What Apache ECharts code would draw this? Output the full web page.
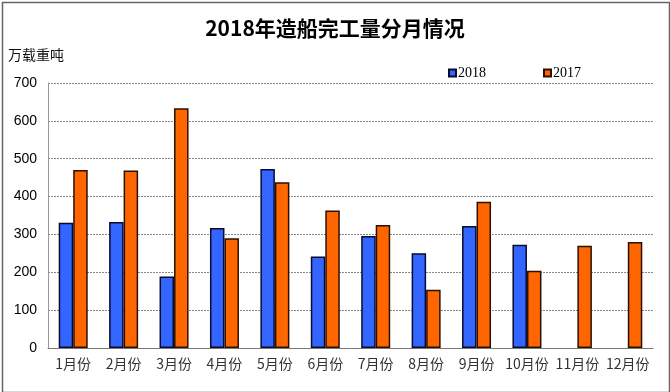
<!DOCTYPE html>
<html>
<head>
<meta charset="utf-8">
<script src="https://cdn.jsdelivr.net/npm/echarts@6/dist/echarts.min.js"></script>
<style>
html,body{margin:0;padding:0;background:#fff;}
#c{width:670px;height:392px;}
</style>
</head>
<body>
<div id="c"></div>
<script>
const categories = ['1月份','2月份','3月份','4月份','5月份','6月份','7月份','8月份','9月份','10月份','11月份','12月份'];
const values2018 = [331, 333, 189, 317, 473, 242, 296, 250, 322, 273, null, null];
const values2017 = [470, 469, 633, 290, 438, 363, 325, 154, 386, 204, 270, 280];
const yTicks = [0, 100, 200, 300, 400, 500, 600, 700];

const chart = echarts.init(document.getElementById('c'));
chart.setOption({
  animation: false,
  backgroundColor: '#fff',
  title: {
    text: '2018年造船完工量分月情况',
    left: 'center',
    top: 13,
    textStyle: {fontSize: 21, fontWeight: 'bold', color: '#000', fontFamily: 'Noto Sans CJK SC'}
  },
  graphic: [
    {type: 'rect', left: 0, top: 0, shape: {width: 667, height: 390}, style: {fill: 'none', stroke: '#666', lineWidth: 1.5}},
    {type: 'text', left: 8, top: 48, style: {text: '万载重吨', fill: '#111', font: '14px "Noto Sans CJK SC"'}}
  ],
  legend: {
    data: ['2018', '2017'],
    left: 443,
    top: 61,
    itemWidth: 7,
    itemHeight: 7,
    itemGap: 57,
    icon: 'rect',
    textStyle: {fontSize: 14, fontFamily: 'Liberation Serif', color: '#000', padding: [0,0,0,-3]}
  },
  grid: {left: 48, right: 17, top: 83, bottom: 44, containLabel: false},
  xAxis: {
    type: 'category',
    data: categories,
    axisLine: {lineStyle: {color: '#777', width: 1}},
    axisTick: {inside: true, length: 4, lineStyle: {color: '#777'}},
    axisLabel: {fontSize: 14, color: '#333', margin: 9, fontFamily: 'Noto Sans CJK SC', interval: 0}
  },
  yAxis: {
    type: 'value',
    min: yTicks[0],
    max: yTicks[yTicks.length - 1],
    interval: 100,
    axisLine: {show: true, lineStyle: {color: '#999', width: 1}},
    axisTick: {show: false},
    axisLabel: {fontSize: 14, color: '#000', margin: 11, fontFamily: 'Liberation Sans'},
    splitLine: {lineStyle: {color: '#888', type: [2, 1], width: 1}}
  },
  series: [
    {
      name: '2018', type: 'bar', data: values2018, barWidth: 14.5, barGap: '0%',
      itemStyle: {color: '#3366FF', borderColor: '#0a0a30', borderWidth: 1.5}
    },
    {
      name: '2017', type: 'bar', data: values2017, barWidth: 14.5,
      itemStyle: {color: '#FF6600', borderColor: '#2a1000', borderWidth: 1.5}
    }
  ]
});
</script>
</body>
</html>
